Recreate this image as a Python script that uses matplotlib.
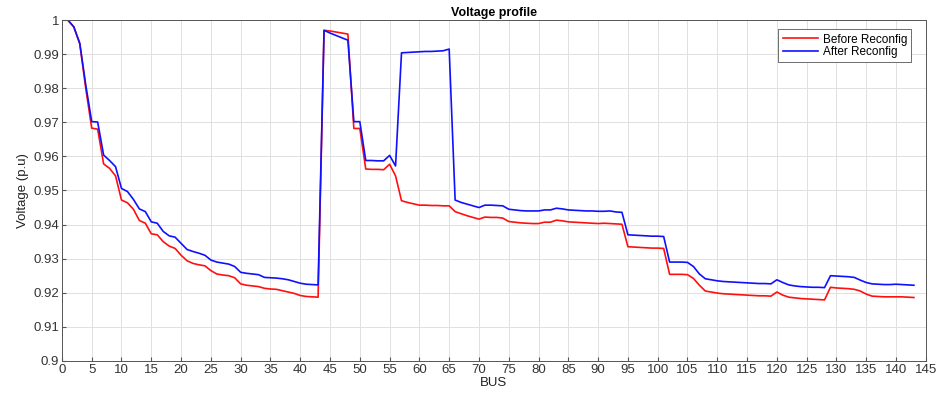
import numpy as np
import matplotlib
matplotlib.use('Agg')
import matplotlib.pyplot as plt

plt.rcParams['font.family'] = ['Liberation Sans', 'DejaVu Sans']

before = [1.0, 0.998, 0.993, 0.980, 0.9683, 0.968, 0.9578, 0.9565, 0.9543, 0.9472,
          0.9464, 0.9445, 0.9412, 0.9404, 0.9373, 0.937, 0.935, 0.9337, 0.933, 0.931,
          0.9294, 0.9286, 0.9282, 0.9279, 0.9265, 0.9255, 0.9252, 0.925, 0.9244, 0.9226,
          0.9222, 0.922, 0.9218, 0.9213, 0.9211, 0.921, 0.9206, 0.9202, 0.9198, 0.9192,
          0.9189, 0.9188, 0.9187, 0.9970, 0.9968, 0.9965, 0.9962, 0.9959, 0.9682, 0.9682,
          0.9563, 0.9562, 0.9562, 0.9561, 0.9577, 0.9543, 0.9470, 0.9465, 0.9461, 0.9457,
          0.9457, 0.9456, 0.9456, 0.9455, 0.9455, 0.9438, 0.9432, 0.9426, 0.9421, 0.9416,
          0.9422, 0.9421, 0.9421, 0.9419, 0.9409, 0.9407, 0.9405, 0.9404, 0.9403, 0.9403,
          0.9407, 0.9407, 0.9413, 0.9411, 0.9408, 0.9407, 0.9406, 0.9405, 0.9404, 0.9403,
          0.9404, 0.9403, 0.9402, 0.9401, 0.9335, 0.9334, 0.9333, 0.9332, 0.9331, 0.9331,
          0.933, 0.9254, 0.9254, 0.9254, 0.9253, 0.9242, 0.9222, 0.9205, 0.9202, 0.9199,
          0.9197, 0.9196, 0.9195, 0.9194, 0.9193, 0.9192, 0.9191, 0.9191, 0.919, 0.9202,
          0.9193, 0.9187, 0.9185, 0.9183, 0.9182, 0.9181, 0.918, 0.9179, 0.9216, 0.9214,
          0.9213, 0.9212, 0.921, 0.9205, 0.9196, 0.919, 0.9189, 0.9188, 0.9188, 0.9188,
          0.9188, 0.9187, 0.9186]

after = [1.0, 0.998, 0.9932, 0.981, 0.9702, 0.9701, 0.9604, 0.9588, 0.957, 0.9506,
         0.9497, 0.9474, 0.9446, 0.9438, 0.9408, 0.9404, 0.938, 0.9367, 0.9363, 0.9345,
         0.9327, 0.9321, 0.9316, 0.931, 0.9296, 0.929, 0.9287, 0.9284, 0.9277, 0.926,
         0.9257, 0.9255, 0.9253, 0.9245, 0.9244, 0.9243, 0.9241, 0.9238, 0.9233, 0.9228,
         0.9225, 0.9224, 0.9223, 0.9970, 0.9962, 0.9955, 0.9948, 0.9941, 0.9702, 0.9702,
         0.9588, 0.9588, 0.9587, 0.9587, 0.9603, 0.9572, 0.9904, 0.9905, 0.9906, 0.9907,
         0.9908, 0.9908, 0.9909, 0.991, 0.9915, 0.9472, 0.9465, 0.946, 0.9455, 0.945,
         0.9457, 0.9457, 0.9456, 0.9455, 0.9445, 0.9443, 0.9441, 0.944, 0.944, 0.944,
         0.9443, 0.9443, 0.9448, 0.9446, 0.9443, 0.9442, 0.9441, 0.944, 0.944, 0.9439,
         0.9439, 0.944, 0.9437, 0.9436, 0.937, 0.9369, 0.9368, 0.9367, 0.9366, 0.9366,
         0.9365, 0.929, 0.929, 0.929, 0.9289, 0.9277, 0.9255, 0.9241, 0.9238, 0.9235,
         0.9233, 0.9232, 0.9231, 0.923, 0.9229, 0.9228, 0.9227, 0.9227, 0.9226, 0.9238,
         0.923, 0.9223, 0.922, 0.9218, 0.9217, 0.9216, 0.9216, 0.9215, 0.925, 0.9249,
         0.9248, 0.9247, 0.9245, 0.9237, 0.923, 0.9226, 0.9225, 0.9224, 0.9224, 0.9225,
         0.9224, 0.9223, 0.9222]

bus = np.arange(1, len(before) + 1)

fig = plt.figure(figsize=(9.38, 3.94), dpi=100)
ax = fig.add_axes([0.066, 0.084, 0.921, 0.865])

ax.plot(bus, before, color='#ff1010', lw=1.2, label='Before Reconfig')
ax.plot(bus, after, color='#1010ff', lw=1.2, label='After Reconfig')

ax.set_xlim(0, 145)
ax.set_ylim(0.9, 1.0)
ax.set_xticks(np.arange(0, 146, 5))
yt = np.round(np.arange(0.9, 1.001, 0.01), 2)
ax.set_yticks(yt)
ax.set_yticklabels([('%g' % v) for v in yt])
ax.grid(True, color='#e0e0e0', lw=0.7)
ax.set_axisbelow(True)
ax.tick_params(direction='in', labelsize=9.5, length=3, color='#555555',
               labelcolor='#333333', pad=2)
for s in ax.spines.values():
    s.set_color('#555555')
    s.set_linewidth(0.7)

ax.set_xlabel('BUS', fontsize=9.5, labelpad=1, color='#222222')
ax.set_ylabel('Voltage (p.u)', fontsize=9.5, labelpad=3, color='#222222')
ax.set_title('Voltage profile', fontsize=9, fontweight='bold', pad=3)

leg = ax.legend(loc='upper right', bbox_to_anchor=(0.99, 0.99), fontsize=8.5,
                fancybox=False, framealpha=1, edgecolor='#555555',
                handlelength=3.0, borderpad=0.35, labelspacing=0.05, handletextpad=0.4)
leg.get_frame().set_linewidth(0.6)

fig.savefig('out.png', dpi=100)
